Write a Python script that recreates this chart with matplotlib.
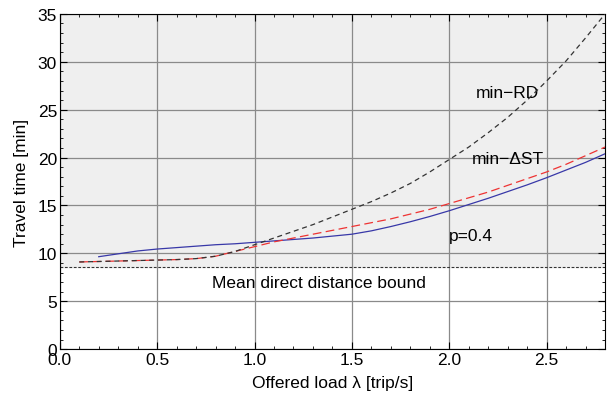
import matplotlib
matplotlib.use("Agg")
from matplotlib import pyplot as plt
from matplotlib.ticker import MultipleLocator

plt.rcParams['font.family'] = ['Liberation Sans', 'DejaVu Sans']
plt.rcParams['font.size'] = 12.5

# Offered load [trip/s]
load = [0.1, 0.2, 0.3, 0.4, 0.5, 0.6, 0.7, 0.8, 0.9, 1.0, 1.1, 1.2, 1.3, 1.4,
        1.5, 1.6, 1.7, 1.8, 1.9, 2.0, 2.1, 2.2, 2.3, 2.4, 2.5, 2.6, 2.7, 2.8]

# travel time [min]
min_rd = [9.1, 9.15, 9.2, 9.25, 9.3, 9.35, 9.45, 9.7, 10.2, 10.9, 11.6, 12.3,
          13.0, 13.8, 14.6, 15.4, 16.3, 17.3, 18.5, 19.8, 21.1, 22.6, 24.2,
          26.0, 28.0, 30.1, 32.5, 35.0]
min_dst = [9.1, 9.15, 9.2, 9.25, 9.3, 9.35, 9.45, 9.7, 10.2, 10.7, 11.2, 11.6,
           12.0, 12.4, 12.8, 13.2, 13.6, 14.1, 14.6, 15.2, 15.8, 16.4, 17.1,
           17.8, 18.5, 19.3, 20.2, 21.1]
load_p = load[1:]
p04 = [9.65, 9.95, 10.25, 10.45, 10.6, 10.75, 10.9, 11.0, 11.15, 11.3, 11.45,
       11.6, 11.8, 12.0, 12.35, 12.8, 13.3, 13.85, 14.45, 15.1, 15.75, 16.45,
       17.15, 17.9, 18.7, 19.5, 20.4]

bound = 8.6

fig = plt.figure(figsize=(6.1, 4.02), dpi=100)
ax = fig.add_axes([0.098, 0.129, 0.894, 0.834])

ax.axhspan(bound, 35, color='#efefef', zorder=0)
ax.grid(True, color='#8a8a8a', linewidth=0.9, zorder=1)
ax.set_axisbelow(True)

ax.axhline(bound, color='#333333', linewidth=0.8, dashes=(2.5, 1.5), zorder=2)
ax.plot(load_p, p04, color='#3838a8', linewidth=0.9, zorder=3)
ax.plot(load, min_dst, color='#ee3333', linewidth=0.9, dashes=(7, 3.5), zorder=4)
ax.plot(load, min_rd, color='#333333', linewidth=0.9, dashes=(4, 3), zorder=5)

ax.text(2.3, 26.8, 'min\u2212RD', ha='center', va='center')
ax.text(2.3, 19.9, 'min\u2212\u0394ST', ha='center', va='center')
ax.text(2.11, 11.9, 'p=0.4', ha='center', va='center')
ax.text(1.33, 7.0, 'Mean direct distance bound', ha='center', va='center')

ax.set_xlim(0, 2.8)
ax.set_ylim(0, 35)
ax.xaxis.set_major_locator(MultipleLocator(0.5))
ax.xaxis.set_minor_locator(MultipleLocator(0.1))
ax.yaxis.set_major_locator(MultipleLocator(5))
ax.yaxis.set_minor_locator(MultipleLocator(1))
ax.tick_params(which='both', direction='in', top=True, right=True, pad=2)
ax.tick_params(which='major', length=5)
ax.tick_params(which='minor', length=2.5)
ax.set_xlabel('Offered load \u03bb [trip/s]', labelpad=6)
ax.set_ylabel('Travel time [min]', labelpad=6)

fig.savefig('out.png', dpi=100)
